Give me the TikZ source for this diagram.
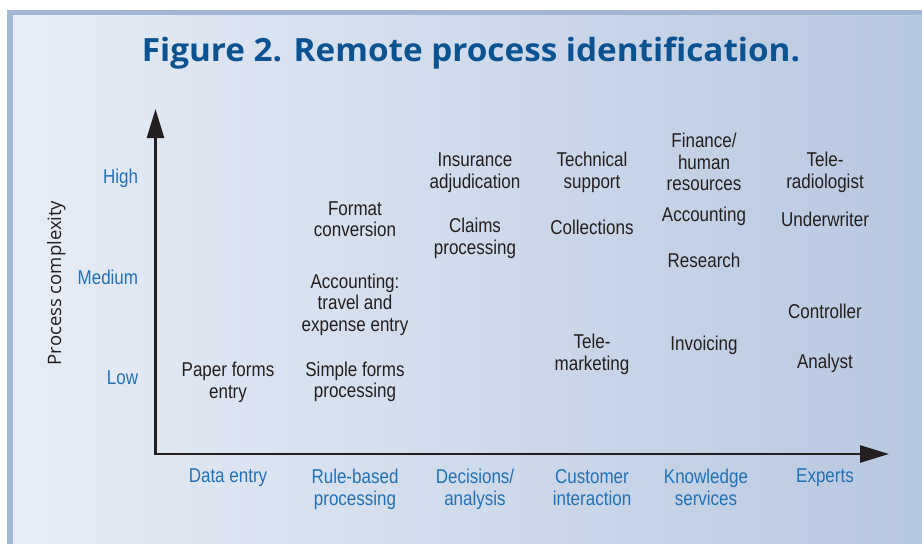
\documentclass[tikz,border=0pt]{standalone}
\usepackage{fontspec}
\setmainfont[FakeStretch=0.85]{Liberation Sans}
\newfontfamily\opensans{Open Sans}
\newfontfamily\titlefont[FakeStretch=1.04]{Open Sans}
\usetikzlibrary{arrows.meta}
\definecolor{framecol}{HTML}{A2B7D5}
\definecolor{bgleft}{HTML}{E7EDF6}
\definecolor{bgright}{HTML}{B8C8E0}
\definecolor{titlecol}{HTML}{0B5290}
\definecolor{labelcol}{HTML}{2271B6}
\definecolor{txtcol}{HTML}{231F20}
\tikzset{
  task/.style={align=center, inner sep=0pt, anchor=base, text=txtcol},
  kind/.style={task, text=labelcol},
  level/.style={inner sep=0pt, anchor=base east, text=labelcol},
}
\begin{document}
\begin{tikzpicture}[x=1pt, y=-1pt, font=\fontsize{20}{21.5}\selectfont, line join=miter, >={Triangle[length=29pt,width=17pt]}]
	\useasboundingbox (0,0) rectangle (922,544);
	\fill[framecol] (7,10) rectangle (922,544);
	\shade[left color=bgleft, right color=bgright] (13,15) rectangle (922,544);
	\node[inner sep=0pt, anchor=base, text=titlecol, font=\titlefont\bfseries\fontsize{32}{32}\selectfont] (title) at (471,61.7) {Figure 2. Remote process identification.};
	% axes
	\coordinate (O) at (155.5,454); \coordinate (ytip) at (155.5,109); \coordinate (xtip) at (889,454);
	\draw[<->, line width=2.5pt, txtcol] (ytip) -- (O) -- (xtip);
	\node[rotate=90, inner sep=0pt, anchor=base, text=txtcol, font=\opensans\fontsize{18.5}{18.5}\selectfont] (ylabel) at (61,283) {Process complexity};
	\foreach \y/\t in {183.3/High, 284/Medium, 384.3/Low} \node[level] (\t) at (138.3,\y) {\t};
	% last baselines
	\foreach \x/\y/\t/\n in {228/482.7/{Data entry}/data, 355/505/{Rule-based\\processing}/rule, 475/505/{Decisions/\\analysis}/decis, 592/505/{Customer\\interaction}/cust, 706/505/{Knowledge\\services}/know, 825/482.7/Experts/expert}
		\node[kind] (\n) at (\x,\y) {\t};
	% tasks
	\foreach \x/\y/\t/\n in {228/398.3/{Paper forms\\entry}/paper,
		355/236.7/{Format\\conversion}/format, 355/331/{Accounting:\\travel and\\expense entry}/travel, 355/397.7/{Simple forms\\processing}/simple,
		475/188/{Insurance\\adjudication}/insur, 475/254/{Claims\\processing}/claims,
		592/188/{Technical\\support}/tech, 592/234/Collections/collect, 592/370/{Tele-\\marketing}/telemk,
		704/190.7/{Finance/\\human\\resources}/finance, 704/221.7/Accounting/account, 704/267.7/Research/research, 704/350.7/Invoicing/invoice,
		825/188.3/{Tele-\\radiologist}/telerad, 825/226/Underwriter/under, 825/318.3/Controller/control, 825/368.3/Analyst/analyst}
		\node[task] (\n) at (\x,\y) {\t};
\end{tikzpicture}
\end{document}
